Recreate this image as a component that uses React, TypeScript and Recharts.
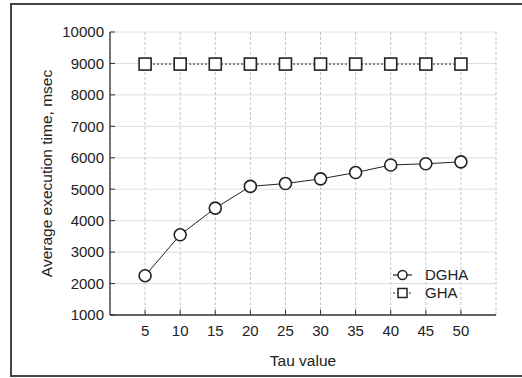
import React from 'react';
import {
  LineChart,
  Line,
  XAxis,
  YAxis,
  CartesianGrid,
  Legend,
} from 'recharts';

// values
const tauValues = [5, 10, 15, 20, 25, 30, 35, 40, 45, 50];
const dghaTimes = [2250, 3550, 4400, 5090, 5180, 5330, 5530, 5770, 5810, 5870];
const ghaTimes = [8980, 8980, 8980, 8980, 8980, 8980, 8980, 8980, 8980, 8980];
const yTicks = [1000, 2000, 3000, 4000, 5000, 6000, 7000, 8000, 9000, 10000];
const seriesNames = ['DGHA', 'GHA'];

const data = tauValues.map((tau, i) => ({
  tau,
  dgha: dghaTimes[i],
  gha: ghaTimes[i],
}));

const FONT = '"Liberation Sans", Arial, sans-serif';
const INK = '#222';
const MARK = 6;

const CircleDot = ({ cx, cy }: any) => {
  if (cx == null || cy == null) return null;
  return <circle cx={cx} cy={cy} r={MARK} fill="#fff" stroke={INK} strokeWidth={1.6} />;
};

const SquareDot = ({ cx, cy }: any) => {
  if (cx == null || cy == null) return null;
  return <rect x={cx - MARK} y={cy - MARK} width={MARK * 2} height={MARK * 2} fill="#fff" stroke={INK} strokeWidth={1.6} />;
};

// legend drawn like the original: short line with marker, then the name
const renderLegend = () => (
  <svg width={90} height={40} style={{ display: 'block', overflow: 'visible' }}>
    <line x1={2} y1={9} x2={21} y2={9} stroke={INK} strokeWidth={1.2} />
    <circle cx={11.5} cy={9} r={4.5} fill="#fff" stroke={INK} strokeWidth={1.5} />
    <text x={34} y={14} fontSize={15} fontFamily={FONT} fill={INK}>{seriesNames[0]}</text>
    <line x1={2} y1={27} x2={21} y2={27} stroke={INK} strokeWidth={1.2} strokeDasharray="2 2" />
    <rect x={7} y={22.5} width={9} height={9} fill="#fff" stroke={INK} strokeWidth={1.5} />
    <text x={34} y={32} fontSize={15} fontFamily={FONT} fill={INK}>{seriesNames[1]}</text>
  </svg>
);

export default function App() {
  const tickStyle = { fontSize: 15, fontFamily: FONT, fill: INK };
  const axisLine = { stroke: '#333', strokeWidth: 1.3 };
  return (
    <div
      style={{
        position: 'absolute',
        left: 0,
        top: 0,
        width: 522,
        height: 378,
        overflow: 'hidden',
        background: '#fff',
      }}
    >
      <div
        style={{
          position: 'absolute',
          left: 10,
          top: 3,
          width: 530,
          height: 374,
          boxSizing: 'border-box',
          border: '2px solid #444',
        }}
      />
      <div style={{ position: 'absolute', left: 0, top: 0 }}>
        <LineChart
          width={522}
          height={378}
          data={data}
          margin={{ top: 32, right: 26, left: 0, bottom: 0 }}
        >
          <CartesianGrid vertical={false} stroke="#dedede" />
          <CartesianGrid horizontal={false} stroke="#c4c4c4" strokeDasharray="3 2" />
          <XAxis
            dataKey="tau"
            type="number"
            domain={[0, 55]}
            ticks={tauValues}
            height={63}
            tick={tickStyle}
            tickSize={-5}
            tickMargin={15}
            axisLine={axisLine}
            tickLine={{ stroke: '#333' }}
            label={{ value: 'Tau value', position: 'insideBottom', offset: 12, fontSize: 15.5, fontFamily: FONT, fill: INK }}
          />
          <XAxis
            xAxisId="top"
            orientation="top"
            dataKey="tau"
            type="number"
            domain={[0, 55]}
            ticks={tauValues}
            height={0}
            mirror
            tick={false}
            tickSize={5}
            axisLine={axisLine}
            tickLine={{ stroke: '#333' }}
          />
          <YAxis
            type="number"
            domain={[1000, 10000]}
            ticks={yTicks}
            width={110}
            tick={tickStyle}
            tickSize={-5}
            tickMargin={11}
            axisLine={axisLine}
            tickLine={{ stroke: '#333' }}
            label={{
              value: 'Average execution time, msec',
              angle: -90,
              position: 'insideLeft',
              offset: 46,
              style: { textAnchor: 'middle' },
              fontSize: 15.5,
              fontFamily: FONT,
              fill: INK,
            }}
          />
          <YAxis
            yAxisId="right"
            orientation="right"
            type="number"
            domain={[1000, 10000]}
            ticks={yTicks}
            width={0}
            mirror
            tick={false}
            tickSize={5}
            axisLine={axisLine}
            tickLine={{ stroke: '#333' }}
          />
          <Legend
            layout="horizontal"
            verticalAlign="middle"
            align="center"
            content={renderLegend}
            wrapperStyle={{ left: 391, top: 266, width: 100, height: 40 }}
          />
          <Line
            name={seriesNames[0]}
            type="linear"
            dataKey="dgha"
            stroke={INK}
            strokeWidth={1}
            dot={<CircleDot />}
            activeDot={false}
            isAnimationActive={false}
          />
          <Line
            name={seriesNames[1]}
            xAxisId="top"
            yAxisId="right"
            type="linear"
            dataKey="gha"
            stroke={INK}
            strokeWidth={1}
            strokeDasharray="2 2"
            dot={<SquareDot />}
            activeDot={false}
            isAnimationActive={false}
          />
        </LineChart>
      </div>
    </div>
  );
}
